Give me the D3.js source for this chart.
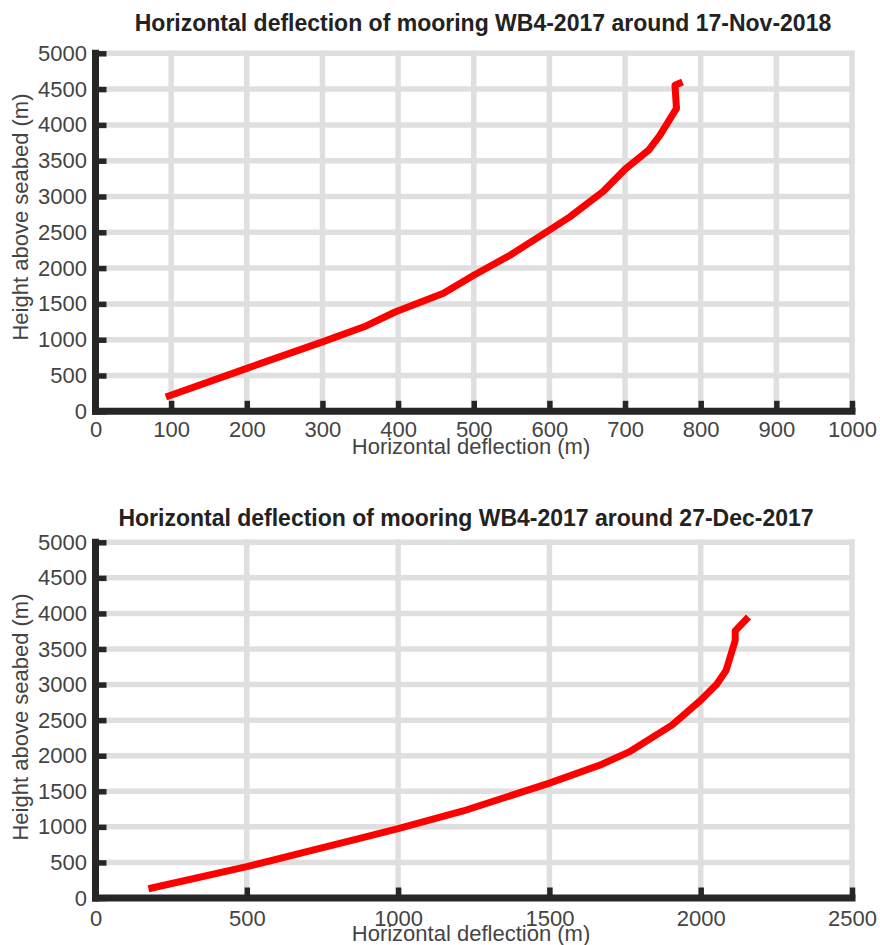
<!DOCTYPE html>
<html><head><meta charset="utf-8">
<script src="https://cdn.jsdelivr.net/npm/d3@7"></script>
<style>body{margin:0;background:#fff}svg{display:block}</style>
</head><body><svg id="c" width="880" height="945"></svg>
<script>
// ---- data ----
const xLabelText = "Horizontal deflection (m)";
const yLabelText = "Height above seabed (m)";
const heightTicks = [0, 500, 1000, 1500, 2000, 2500, 3000, 3500, 4000, 4500, 5000];

const topTitle = "Horizontal deflection of mooring WB4-2017 around 17-Nov-2018";
const topDeflTicks = [0, 100, 200, 300, 400, 500, 600, 700, 800, 900, 1000];
const topDefl   = [93, 200, 300, 355, 396, 460, 500, 548, 600, 627, 671, 700, 731, 746, 768, 766, 776];
const topHeight = [200, 600, 970, 1180, 1387, 1650, 1900, 2180, 2530, 2715, 3070, 3380, 3645, 3855, 4230, 4555, 4600];

const botTitle = "Horizontal deflection of mooring WB4-2017 around 27-Dec-2017";
const botDeflTicks = [0, 500, 1000, 1500, 2000, 2500];
const botDefl   = [175, 500, 883, 1000, 1212, 1500, 1668, 1762, 1905, 2000, 2053, 2084, 2114, 2114, 2158];
const botHeight = [130, 440, 850, 975, 1220, 1615, 1870, 2050, 2430, 2780, 3005, 3200, 3620, 3755, 3950];

const svg = d3.select("#c");
const FONT = "'Liberation Sans', Arial, Helvetica, sans-serif";

function panel(cfg) {
  const g = svg.append("g");
  const x = d3.scaleLinear().domain([cfg.xTicks[0], cfg.xTicks[cfg.xTicks.length - 1]]).range([cfg.left, cfg.right]);
  const y = d3.scaleLinear().domain([0, 5000]).range([cfg.bottom, cfg.top]);

  // grid
  g.append("g").selectAll("line").data(cfg.xTicks.slice(1)).join("line")
    .attr("x1", d => x(d)).attr("x2", d => x(d))
    .attr("y1", cfg.bottom).attr("y2", cfg.top)
    .attr("stroke", "#dfdfdf").attr("stroke-width", 5.5).attr("stroke-linecap", "square");
  g.append("g").selectAll("line").data(heightTicks.slice(1)).join("line")
    .attr("x1", cfg.left).attr("x2", cfg.right)
    .attr("y1", d => y(d)).attr("y2", d => y(d))
    .attr("stroke", "#dfdfdf").attr("stroke-width", 5.5).attr("stroke-linecap", "square");

  // curve
  const pts = cfg.xs.map((v, i) => [v, cfg.ys[i]]);
  g.append("path").datum(pts)
    .attr("d", d3.line().x(d => x(d[0])).y(d => y(d[1])))
    .attr("fill", "none").attr("stroke", "#ff0000").attr("stroke-width", 7)
    .attr("stroke-linejoin", "round");

  // axes
  const xa = g.append("g").attr("transform", `translate(0,${cfg.bottom})`)
    .call(d3.axisBottom(x).tickValues(cfg.xTicks).tickSize(-10.5).tickPadding(cfg.xPad).tickFormat(d3.format("d")));
  const ya = g.append("g").attr("transform", `translate(${cfg.left},0)`)
    .call(d3.axisLeft(y).tickValues(heightTicks).tickSize(-11).tickPadding(8.5).tickFormat(d3.format("d")));
  [xa, ya].forEach(a => {
    a.select(".domain").remove();
    a.selectAll(".tick line").attr("stroke", "#262626").attr("stroke-width", 5.5);
    a.selectAll(".tick text").attr("fill", "#444").style("font-family", FONT).style("font-size", "22px");
  });
  // spines
  g.append("line").attr("x1", cfg.left).attr("x2", cfg.left).attr("y1", cfg.top).attr("y2", cfg.bottom)
    .attr("stroke", "#262626").attr("stroke-width", 7).attr("stroke-linecap", "square");
  g.append("line").attr("x1", cfg.left).attr("x2", cfg.right).attr("y1", cfg.bottom).attr("y2", cfg.bottom)
    .attr("stroke", "#262626").attr("stroke-width", 7).attr("stroke-linecap", "square");

  // title
  g.append("text").text(cfg.title)
    .attr("x", cfg.titleX).attr("y", cfg.titleY).attr("text-anchor", "middle")
    .attr("fill", "#222").style("font-family", FONT).style("font-size", "23px").style("font-weight", "bold");
  // x label
  g.append("text").text(xLabelText)
    .attr("x", cfg.xLabelX).attr("y", cfg.xLabelY).attr("text-anchor", "middle")
    .attr("fill", "#444").style("font-family", FONT).style("font-size", "22px");
  // y label
  g.append("text").text(yLabelText)
    .attr("transform", `translate(27.5,${cfg.yLabelY}) rotate(-90)`).attr("text-anchor", "middle")
    .attr("fill", "#444").style("font-family", FONT).style("font-size", "22px");
}

panel({ title: topTitle, xTicks: topDeflTicks, xs: topDefl, ys: topHeight,
  left: 95.5, right: 852, top: 53.3, bottom: 411.3, xPad: 10,
  titleX: 483, titleY: 31, xLabelX: 471, xLabelY: 454, yLabelY: 217 });

panel({ title: botTitle, xTicks: botDeflTicks, xs: botDefl, ys: botHeight,
  left: 95.5, right: 852, top: 542.3, bottom: 898, xPad: 12,
  titleX: 466, titleY: 526, xLabelX: 471, xLabelY: 941, yLabelY: 717 });
</script>
</body></html>
